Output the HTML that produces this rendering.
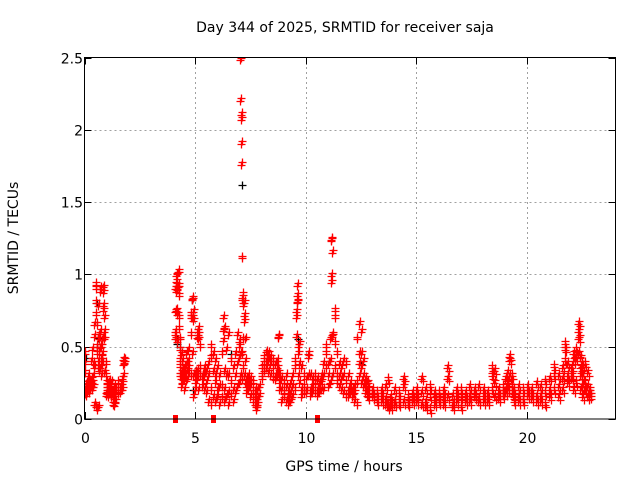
<!DOCTYPE html>
<html><head><meta charset="utf-8"><style>
html,body{margin:0;padding:0;background:#fff;width:640px;height:480px;overflow:hidden}
svg text{font-family:"DejaVu Sans","Liberation Sans",sans-serif;font-size:14px;fill:#000}
</style></head><body>
<svg id="chart" width="640" height="480" viewBox="0 0 640 480" xmlns="http://www.w3.org/2000/svg">
<text x="345" y="32" text-anchor="middle">Day 344 of 2025, SRMTID for receiver saja</text>
<text x="344" y="471" text-anchor="middle">GPS time / hours</text>
<text transform="translate(18,238) rotate(-90)" text-anchor="middle">SRMTID / TECUs</text>
<g id="grid"></g>
<g id="ticks"></g>
<defs><clipPath id="clip"><rect x="84.5" y="57" width="531" height="366"/></clipPath></defs>
<g id="marks" clip-path="url(#clip)"></g>
<rect x="84.5" y="57.5" width="531" height="361.5" fill="none" stroke="#000" stroke-width="1"/>
</svg>
<script>
const xTicks = [0,5,10,15,20];
const yTicks = [0,0.5,1,1.5,2,2.5];
const yTickLabels = ["0","0.5","1","1.5","2","2.5"];
const redT = [0,0.05,0.1,0.15,0.2,0.25,0.3,0.35,0.4,0.45,0.5,0.55,0.6,0.65,0.7,0.75,0.8,0.85,0.9,0.95,1.0,1.05,1.1,1.15,1.2,1.3,1.35,1.4,1.5,1.6,1.7,1.75,1.8,
4.1,4.15,4.2,4.25,4.3,4.35,4.4,4.5,4.6,4.7,4.8,4.85,4.9,5.0,5.1,5.15,5.2,5.3,5.4,5.5,5.6,5.7,5.8,5.9,6.0,6.1,6.2,6.25,6.3,6.4,6.5,6.6,6.7,6.8,6.9,7.0,7.05,7.08,7.1,7.15,7.2,7.25,7.3,7.4,7.5,7.6,7.7,7.75,7.8,7.9,
8.0,8.1,8.2,8.3,8.4,8.5,8.6,8.7,8.75,8.8,8.9,9.0,9.1,9.2,9.3,9.4,9.5,9.55,9.6,9.65,9.7,9.8,9.9,10.0,10.1,10.2,10.3,10.4,10.5,10.6,10.7,10.8,10.9,11.0,11.1,11.15,11.2,11.3,11.4,11.5,11.6,11.7,11.8,11.9,12.0,12.1,12.2,12.3,12.4,12.5,12.6,12.7,12.8,
13.0,13.2,13.4,13.6,13.7,13.8,14.0,14.2,14.4,14.6,14.8,15.0,15.2,15.4,15.6,15.8,16.0,16.2,16.4,16.6,16.8,17.0,17.2,17.4,17.6,17.8,18.0,18.2,18.4,18.5,18.7,18.9,19.0,19.1,19.2,19.3,19.4,19.6,19.8,20.0,20.2,20.4,20.6,20.8,21.0,21.2,21.4,21.6,21.7,21.8,22.0,22.1,22.2,22.3,22.4,22.5,22.6,22.7,22.8];
const redV = [[.17,.19,.38,.45,.32],[.16,.22],[.2,.24,.18],[.21,.25,.3],[.22,.18,.26],[.24,.2],[.27,.23,.4],[.25,.48,.2],[.3,.38,.22],[.35,.57,.65,.1],[.72,.8,.93,.9,.08],[.5,.45,.06,.65],[.4,.35,.08,.57,.78],[.47,.55,.33],[.6,.88,.9,.5,.35],[.42,.5,.3,.4],[.45,.55,.38],[.78,.75,.91,.87],[.7,.55,.6,.32],[.3,.38,.16],[.2,.22,.17,.25],[.24,.2,.15],[.22,.19,.26],[.2,.17,.23],[.18,.15,.25],[.12,.1,.2,.16],[.09,.14,.22],[.12,.18,.2],[.2,.25,.17],[.22,.18],[.24,.28,.2],[.3,.41,.37],[.38,.4],
[.58,.6,.55,.74,.9,0],[.88,.92,.99,.95,.75],[.9,1.0,.89,.72,.53],[.62,.7,.92,1.02,.85],[.55,.48,.36,.3,.4],[.44,.28,.32,.22],[.25,.34,.3,.4],[.2,.28,.35,.3],[.32,.26,.38,.45],[.35,.48,.4,.3],[.7,.72,.58,.3],[.83,.82,.7,.45],[.68,.74,.3,.15],[.3,.2,.32,.25],[.6,.56,.33,.28],[.62,.55,.58,.2],[.5,.35,.3],[.3,.28,.22],[.35,.2,.3],[.33,.25,.18],[.3,.12,.38],[.42,.5,.2,.1],[.45,.33,.15,0],[.4,.25,.12,.3],[.35,.2,.15],[.3,.1,.22],[.45,.22,.14],[.54,.61,.7],[.62,.33,.2,.12],[.48,.3,.15],[.58,.3,.18,.1],[.4,.25,.16],[.35,.2,.12],[.45,.3,.18],[.58,.38,.22],[.5,.53,.42,.25],[2.48,2.2,.44,.3],[2.1,2.07,1.9,1.76],[1.11,.82,.45,.28],[.86,.78,.55,.35],[.8,.71,.67,.3],[.55,.4,.25],[.28,.22,.18],[.25,.2,.3],[.22,.15,.28],[.18,.12,.25],[.15,.1,.2],[.08,.06,.12],[.1,.14,.2],[.16,.22],
[.3,.35,.28],[.38,.42,.33],[.4,.46,.35],[.45,.4,.32],[.42,.38,.3],[.4,.35,.28],[.38,.3,.27],[.35,.3,.4],[.57,.56,.32],[.3,.25,.2],[.28,.2,.12],[.25,.18,.15],[.22,.12,.3],[.2,.15,.1],[.25,.18,.12],[.22,.3,.15],[.35,.4,.2],[.57,.74,.7],[.92,.85,.8,.81],[.5,.45,.3],[.52,.38,.25],[.35,.2,.15],[.3,.22,.18],[.28,.18,.2],[.42,.45,.3],[.3,.2,.16],[.28,.18,.22],[.3,.25,.18],[.28,.2,.16,0],[.24,.18,.22],[.3,.2,.26],[.38,.3,.2],[.5,.45,.35],[.38,.3,.22],[.55,.4,.25],[1.24,1.23,.99,.94],[1.15,.58,.57,.3],[.75,.7,.52,.35],[.45,.3,.25],[.38,.3,.22],[.35,.28,.2],[.4,.3,.18],[.38,.25,.15],[.3,.2,.15],[.25,.18,.2],[.2,.15,.18],[.18,.12,.22],[.55,.25,.1],[.66,.45,.38,.3],[.6,.45,.35,.25],[.4,.3,.22],[.28,.22,.18],[.25,.2,.15],
[.2,.15,.18],[.18,.14,.12],[.16,.12,.2],[.22,.14,.1],[.27,.1,.08],[.15,.08,.12],[.12,.1,.2],[.18,.14,.1],[.28,.22,.12],[.15,.12,.1],[.18,.14,.12],[.2,.12,.15],[.28,.18,.1],[.2,.12,.08],[.22,.15,.06],[.15,.1,.18],[.18,.12,.14],[.2,.15,.1],[.35,.28,.15],[.16,.1,.08],[.2,.12,.16],[.2,.15,.08],[.18,.14,.12],[.22,.16,.12],[.2,.15,.18],[.22,.14,.12],[.2,.16,.12],[.18,.14,.12],[.35,.3,.2],[.33,.25,.15],[.2,.16,.14],[.22,.18,.16],[.28,.2,.18],[.32,.25,.2],[.43,.4,.3],[.3,.22,.18],[.2,.12,.15],[.22,.16,.12],[.2,.14,.12],[.22,.16,.18],[.2,.14,.18],[.24,.16,.12],[.22,.12,.16],[.26,.18,.1],[.28,.2,.15],[.36,.3,.2],[.3,.22,.15],[.35,.28,.2],[.52,.48,.4],[.38,.3,.25],[.35,.28,.3],[.45,.4,.2],[.48,.42,.25],[.66,.6,.55,.45],[.42,.35,.3,.2],[.36,.3,.22,.15],[.38,.25,.2],[.32,.22,.15],[.2,.16,.18]];
const blackT = [0.55,0.6,4.2,4.3,4.85,4.9,6.6,7.1,9.65,11.2,12.5,0.05];
const blackV = [[.5,.8],[.56],[.55,.52],[.5],[.83,.82],[.2],[.45],[1.62],[.55],[.3],[.38],[.42]];

const svg = document.getElementById('chart');
const NS = 'http://www.w3.org/2000/svg';
const X0=84.5, X1=615.5, Y0=419, Y1=57.5, XMAX=24, YMAX=2.5;
function xs(v){return X0+(X1-X0)*v/XMAX;}
function ys(v){return Y0-(Y0-Y1)*v/YMAX;}
const grid=document.getElementById('grid'), ticks=document.getElementById('ticks'), marks=document.getElementById('marks');
function line(p,x1,y1,x2,y2,stroke,dash){const l=document.createElementNS(NS,'line');l.setAttribute('x1',x1);l.setAttribute('y1',y1);l.setAttribute('x2',x2);l.setAttribute('y2',y2);l.setAttribute('stroke',stroke);if(dash)l.setAttribute('stroke-dasharray',dash);p.appendChild(l);return l;}
xTicks.forEach(t=>{
  const x=Math.round(xs(t))+0.5;
  if(t>0){const g=line(grid,x,Y0,x,Y1,'#a0a0a0','2,3');
  
  }
  line(ticks,x,Y0,x,Y0-7,'#000');line(ticks,x,Y1,x,Y1+7,'#000');
  const tx=document.createElementNS(NS,'text');tx.setAttribute('x',x);tx.setAttribute('y',443);tx.setAttribute('text-anchor','middle');tx.textContent=String(t);
  
  
  ticks.appendChild(tx);
});
yTicks.forEach((t,i)=>{
  const y=Math.round(ys(t))+0.5;
  if(t>0&&t<YMAX){const g=line(grid,X0,y,X1,y,'#a0a0a0','2,3');
  
  }
  line(ticks,X0,y,X0+7,y,'#000');line(ticks,X1,y,X1-7,y,'#000');
  const tx=document.createElementNS(NS,'text');tx.setAttribute('x',83);tx.setAttribute('y',y+5);tx.setAttribute('text-anchor','end');tx.textContent=yTickLabels[i];
  
  
  ticks.appendChild(tx);
});
function plus(color,t,v,name){
  const x=Math.round(xs(t))+0.5, y=Math.round(ys(v))+0.5;
  const p=document.createElementNS(NS,'path');
  p.setAttribute('d','M'+(x-4)+' '+y+'H'+(x+4)+'M'+x+' '+(y-4)+'V'+(y+4));
  p.setAttribute('stroke',color);p.setAttribute('stroke-width','1.3');
  
  
  marks.appendChild(p);
}
function zeroMark(t){
  const x=Math.round(xs(t)), y=Math.round(ys(0));
  const r=document.createElementNS(NS,'rect');
  r.setAttribute('x',x-2);r.setAttribute('y',y-4);r.setAttribute('width',5);r.setAttribute('height',8);r.setAttribute('fill','#f00');
  
  
  marks.appendChild(r);
}
blackT.forEach((t,i)=>blackV[i].forEach(v=>plus('#000',t,v,'black-point')));
redT.forEach((t,i)=>redV[i].forEach(v=>{
  if(v===0){zeroMark(t);return;}
  plus('#f00',t,v,'red-point');
  plus('#f00',t+0.035,v+0.02,'red-point');
  if(t>=12.7) plus('#f00',t+0.08,v-0.02,'red-point');
}));
</script>
</body></html>
